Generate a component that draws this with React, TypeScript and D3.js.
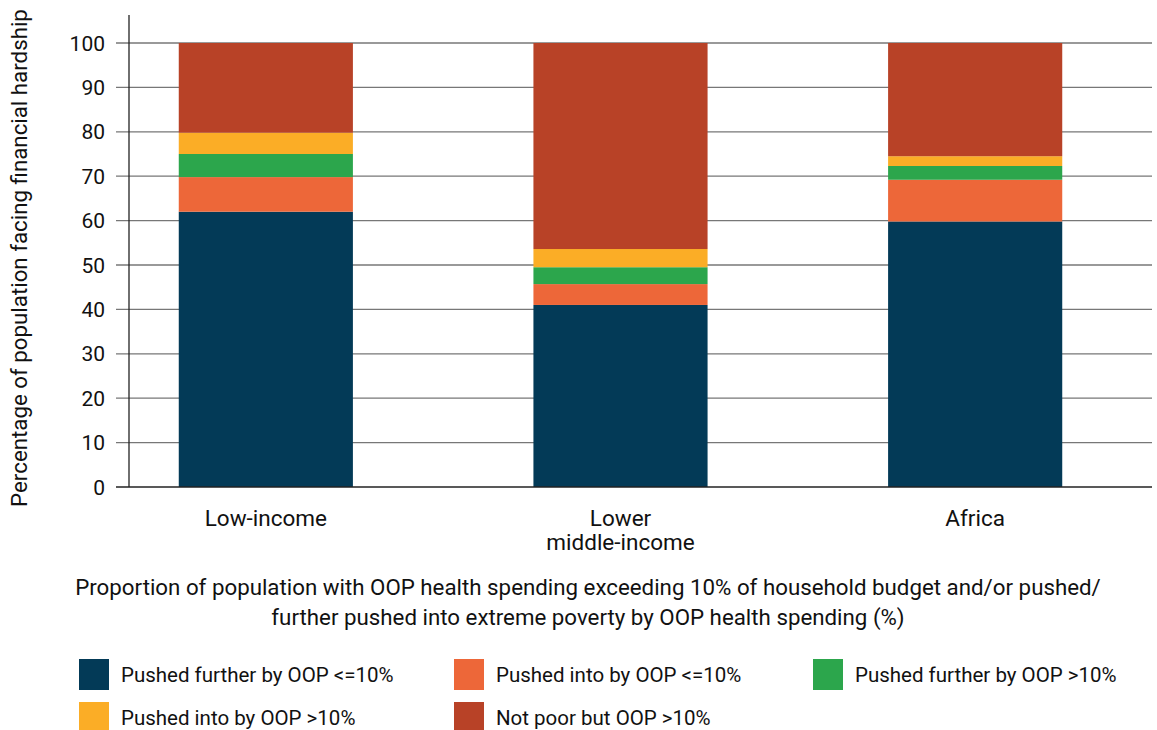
import React from "react";
import * as d3 from "d3";

const categories = ["Low-income", "Lower middle-income", "Africa"];
const categoryLines = [["Low-income"], ["Lower", "middle-income"], ["Africa"]];
const seriesNames = [
  "Pushed further by OOP <=10%",
  "Pushed into by OOP <=10%",
  "Pushed further by OOP >10%",
  "Pushed into by OOP >10%",
  "Not poor but OOP >10%",
];
const seriesColors = ["#033a57", "#ed6739", "#2ca64c", "#fbad26", "#b84227"];
const pushedFurtherLow = [62, 41, 59.8];
const pushedIntoLow = [7.8, 4.7, 9.4];
const pushedFurtherHigh = [5.2, 3.8, 3.1];
const pushedIntoHigh = [4.8, 4.1, 2.2];
const notPoor = [20.2, 46.4, 25.5];
const yTicks = [0, 10, 20, 30, 40, 50, 60, 70, 80, 90, 100];
const yTitle = "Percentage of population facing financial hardship";
const xTitle = [
  "Proportion of population with OOP health spending exceeding 10% of household budget and/or pushed/",
  "further pushed into extreme poverty by OOP health spending (%)",
];

const FONT = "Roboto, 'Noto Sans', sans-serif";

export default function App() {
  const W = 1157, H = 730;
  const x0 = 129, xEnd = 1152, y0 = 487, y100 = 43;
  const seriesValues = [pushedFurtherLow, pushedIntoLow, pushedFurtherHigh, pushedIntoHigh, notPoor];
  const rows = categories.map((c, i) => {
    const r: any = { cat: c };
    seriesNames.forEach((s, j) => (r[s] = seriesValues[j][i]));
    return r;
  });
  const stacked = d3.stack().keys(seriesNames)(rows);
  const x = d3.scaleBand().domain(categories).range([88.5, 1152.5]).paddingInner(0.509).paddingOuter(0.2545);
  const y = d3.scaleLinear().domain([0, 100]).range([y0, y100]);

  const legendPos = [
    [79, 659], [454, 659], [813, 659], [79, 702], [454, 702],
  ];

  return (
    <svg width={W} height={H} style={{ position: "absolute", left: 0, top: 0 }} fontFamily={FONT}>
      {yTicks.filter(t => t > 0).map(t => (
        <line key={t} x1={116} x2={xEnd} y1={y(t)} y2={y(t)} stroke="#777" strokeWidth={1.3} />
      ))}
      {stacked.map((s, j) => (
        <g key={j} fill={seriesColors[j]}>
          {s.map((d, i) => (
            <rect key={i} x={x(categories[i])} width={x.bandwidth()} y={y(d[1])} height={y(d[0]) - y(d[1])} />
          ))}
        </g>
      ))}
      <line x1={116} x2={xEnd} y1={y0} y2={y0} stroke="#222" strokeWidth={1.3} />
      <line x1={x0} x2={x0} y1={15} y2={y0} stroke="#222" strokeWidth={1.3} />
      {yTicks.map(t => (
        <text key={t} x={105} y={y(t)} dy="0.36em" textAnchor="end" fontSize={21} fill="#111">{t}</text>
      ))}
      {categoryLines.map((lines, i) => (
        <text key={i} textAnchor="middle" fontSize={22.5} fill="#111">
          {lines.map((l, k) => (
            <tspan key={k} x={(x(categories[i]) as number) + x.bandwidth() / 2} y={526 + k * 24}>{l}</tspan>
          ))}
        </text>
      ))}
      <text transform={`translate(27,258) rotate(-90)`} textAnchor="middle" fontSize={22.3} fill="#111">{yTitle}</text>
      {xTitle.map((l, k) => (
        <text key={k} x={588} y={595 + k * 30} textAnchor="middle" fontSize={22.3} fill="#111">{l}</text>
      ))}
      {seriesNames.map((s, j) => (
        <g key={s}>
          <rect x={legendPos[j][0]} y={legendPos[j][1]} width={30} height={31} fill={seriesColors[j]} />
          <text x={legendPos[j][0] + 42} y={legendPos[j][1] + 16} dy="0.36em" fontSize={20.5} fill="#111">{s}</text>
        </g>
      ))}
    </svg>
  );
}
